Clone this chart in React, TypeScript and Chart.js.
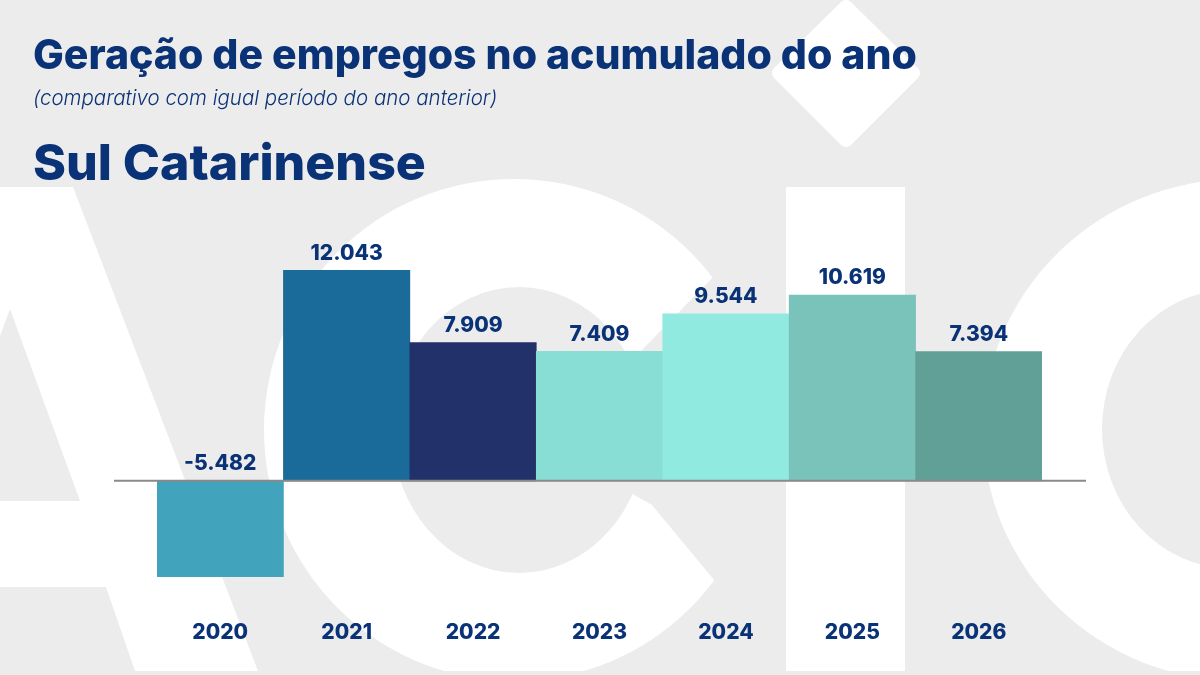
import React, { useEffect, useRef } from "react";
import { Chart, registerables } from "chart.js";

Chart.register(...registerables);

const categories = ["2020", "2021", "2022", "2023", "2024", "2025", "2026"];
const values = [-5482, 12043, 7909, 7409, 9544, 10619, 7394];
const barColors = ["#41a3bc", "#1a6a9a", "#22316a", "#88ddd4", "#90eae0", "#7ac3bb", "#61a097"];

const titleText = "Geração de empregos no acumulado do ano";
const subtitleText = "(comparativo com igual período do ano anterior)";
const regionText = "Sul Catarinense";

const NAVY = "#0a3277";
const BG = "#ececec";

function fmt(v: number): string {
  const s = Math.abs(v).toString();
  const parts: string[] = [];
  for (let i = s.length; i > 0; i -= 3) parts.unshift(s.slice(Math.max(0, i - 3), i));
  return (v < 0 ? "-" : "") + parts.join(".");
}

const backgroundPlugin = {
  id: "acicBackground",
  beforeDraw(chart: any) {
    const ctx = chart.ctx as CanvasRenderingContext2D;
    const W = chart.width;
    const H = chart.height;
    ctx.save();
    ctx.fillStyle = BG;
    ctx.fillRect(0, 0, W, H);
    ctx.fillStyle = "#ffffff";
    // A
    ctx.beginPath();
    ctx.moveTo(0, 187);
    ctx.lineTo(73, 187);
    ctx.lineTo(258, 671);
    ctx.lineTo(135, 671);
    ctx.lineTo(106, 587);
    ctx.lineTo(0, 587);
    ctx.closePath();
    ctx.fill();
    ctx.fillStyle = BG;
    ctx.beginPath();
    ctx.moveTo(10, 309);
    ctx.lineTo(80, 501);
    ctx.lineTo(0, 501);
    ctx.lineTo(0, 336);
    ctx.closePath();
    ctx.fill();
    // C (centre)
    ctx.fillStyle = "#ffffff";
    ctx.beginPath();
    ctx.ellipse(514, 430, 250, 251, 0, 0, Math.PI * 2);
    ctx.fill();
    ctx.fillStyle = BG;
    ctx.beginPath();
    ctx.ellipse(519, 430, 127, 143, 0, 0, Math.PI * 2);
    ctx.fill();
    ctx.beginPath();
    ctx.moveTo(519, 430);
    ctx.lineTo(642, 350);
    ctx.lineTo(830, 157);
    ctx.lineTo(830, 720);
    ctx.lineTo(652, 505);
    ctx.closePath();
    ctx.fill();
    // bottom strip
    ctx.fillRect(0, 671, W, H - 671);
    // I
    ctx.fillStyle = "#ffffff";
    ctx.fillRect(786, 187, 119, 484);
    // diamond dot
    ctx.beginPath();
    ctx.lineJoin = "round";
    ctx.lineWidth = 14;
    ctx.strokeStyle = "#ffffff";
    ctx.moveTo(846, 7);
    ctx.lineTo(913, 73);
    ctx.lineTo(846, 140);
    ctx.lineTo(779, 73);
    ctx.closePath();
    ctx.fill();
    ctx.stroke();
    // C (right)
    ctx.beginPath();
    ctx.ellipse(1240, 430, 257, 251, 0, 0, Math.PI * 2);
    ctx.fill();
    ctx.fillStyle = BG;
    ctx.beginPath();
    ctx.ellipse(1230, 429, 128, 139, 0, 0, Math.PI * 2);
    ctx.fill();
    ctx.fillRect(0, 671, W, H - 671);
    ctx.restore();
  },
};

const overlayPlugin = {
  id: "overlay",
  afterDatasetsDraw(chart: any) {
    const ctx = chart.ctx as CanvasRenderingContext2D;
    const y0 = chart.scales.y.getPixelForValue(0);
    const area = chart.chartArea;
    ctx.save();
    ctx.strokeStyle = "#8a8a8a";
    ctx.lineWidth = 2;
    ctx.beginPath();
    ctx.moveTo(area.left - 43, y0);
    ctx.lineTo(area.right + 44, y0);
    ctx.stroke();
    const meta = chart.getDatasetMeta(0);
    ctx.fillStyle = NAVY;
    ctx.font = "800 21px Inter";
    ctx.textAlign = "center";
    ctx.textBaseline = "middle";
    meta.data.forEach((bar: any, i: number) => {
      const top = Math.min(bar.y, bar.base);
      ctx.fillText(fmt(values[i]), bar.x, top - 17);
    });
    ctx.restore();
  },
};

export default function App() {
  const canvasRef = useRef<HTMLCanvasElement | null>(null);

  useEffect(() => {
    if (!canvasRef.current) return;
    const chart = new Chart(canvasRef.current, {
      type: "bar",
      data: {
        labels: categories,
        datasets: [
          {
            data: values,
            backgroundColor: barColors,
            borderWidth: 0,
            barPercentage: 1,
            categoryPercentage: 1,
          },
        ],
      },
      options: {
        animation: false,
        responsive: false,
        maintainAspectRatio: false,
        layout: { padding: { left: 157, right: 158, top: 236, bottom: 0 } },
        plugins: { legend: { display: false }, tooltip: { enabled: false } },
        scales: {
          x: {
            grid: { display: false, drawTicks: false },
            border: { display: false },
            ticks: { color: NAVY, font: { family: "Inter", size: 21, weight: 800 }, padding: 34 },
          },
          y: { display: false, min: -6000, max: 14000 },
        },
      },
      plugins: [backgroundPlugin, overlayPlugin],
    });
    return () => chart.destroy();
  }, []);

  const textBase: React.CSSProperties = {
    position: "absolute",
    left: 33,
    margin: 0,
    whiteSpace: "nowrap",
    color: NAVY,
    fontFamily: "Inter, sans-serif",
  };

  return (
    <div style={{ position: "fixed", left: 0, top: 0, width: 1200, height: 675, overflow: "hidden", background: BG }}>
      <canvas ref={canvasRef} width={1200} height={679} style={{ position: "absolute", left: 0, top: 0 }} />
      <div style={{ ...textBase, top: 33.6, fontSize: 41, lineHeight: "41px", fontWeight: 800 }}>{titleText}</div>
      <div style={{ ...textBase, top: 88, fontSize: 20.5, lineHeight: "20.5px", fontWeight: 300, fontStyle: "italic" }}>{subtitleText}</div>
      <div style={{ ...textBase, top: 137, fontSize: 50, lineHeight: "51px", fontWeight: 800 }}>{regionText}</div>
    </div>
  );
}
